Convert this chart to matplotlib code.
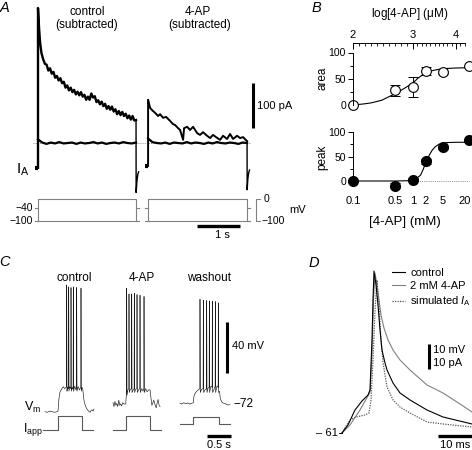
import numpy as np
import matplotlib
matplotlib.use('Agg')
import matplotlib.pyplot as plt
from matplotlib.transforms import ScaledTranslation

plt.rcParams['font.family'] = ['Liberation Sans', 'DejaVu Sans']
plt.rcParams['mathtext.fontset'] = 'custom'
plt.rcParams['mathtext.rm'] = 'Liberation Sans'
plt.rcParams['mathtext.it'] = 'Liberation Sans:italic'
plt.rcParams['axes.unicode_minus'] = True

# ---------------- data ----------------
# A: subtracted I_A (pA) vs time (s) from step onset
ctrl_t = [0, 0.01, 0.025, 0.05, 0.08, 0.12, 0.16] + list(np.linspace(0.2, 2.28, 53))
ctrl_i = [300, 282, 255, 222, 200, 186, 176,
          174, 161, 166, 154, 158, 145, 149, 139, 144, 133,
          136, 123, 128, 117, 123, 113, 118, 108, 114, 106,
          113, 103, 107, 96, 103, 96, 110, 101, 104, 91,
          95, 86, 92, 82, 87, 76, 82, 74, 81, 70,
          75, 64, 71, 62, 69, 60, 65, 55, 61, 52,
          60, 50, 51]
ctrl_flat_t = np.linspace(0, 2.28, 24)
ctrl_flat_i = [8, 1, -2, 1, -1, 2, -1, 0, 1, -2, 1, -1, 0, 2, -1, 1, -2, 0, 1, -1, 2, 0, -1, 1]
ctrl_hold = -55
ctrl_tail_t = [2.28, 2.282, 2.30, 2.32, 2.34]
ctrl_tail_i = [51, -110, -86, -70, -64]

ap_t = [0, 0.023, 0.047, 0.093, 0.163, 0.233, 0.279, 0.349, 0.419, 0.512, 0.581, 0.628,
        0.698, 0.744, 0.814, 0.837, 0.907, 0.977, 1.047, 1.140, 1.209, 1.279, 1.372,
        1.442, 1.512, 1.581, 1.674, 1.744, 1.837, 1.907, 1.977, 2.070, 2.140, 2.209, 2.302]
ap_i = [96, 87, 78, 73, 67, 60, 64, 56, 58, 49, 42, 40,
        33, 29, 7, 33, 36, 29, 36, 22, 18, 24, 16,
        11, 18, 13, 7, 16, 9, 20, 9, 16, 11, 13, 4]
ap_flat_t = np.linspace(0, 2.30, 24)
ap_flat_i = [10, 2, 0, -1, 1, -2, 1, 0, -1, 2, -1, 1, 0, -2, 1, -1, 2, 0, -1, 1, 0, -2, 1, 0]
ap_hold = -51
ap_tail_t = [2.302, 2.304, 2.32, 2.34, 2.36]
ap_tail_i = [4, -104, -80, -66, -60]
ap_offset = 2.56

# voltage protocol (mV)
step_mv, pre_mv, hold_mv = 0, -100, -40
pulse_dur = [2.28, 2.30]

# B: normalised block (%) vs [4-AP] (mM)
conc = [0.1, 0.5, 1, 2, 5, 20]
area_val = [0, 28, 35, 65, 62, 75]
area_err = [0, 10, 19, 7, 3, 0]
peak_val = [-1, -10, 3, 40, 69, 84]
peak_err = [0, 5, 3, 5, 3, 0]
area_fit_c = [0.1, 0.15, 0.2, 0.3, 0.4, 0.5, 0.7, 1.0, 1.3, 1.7, 2.2, 3, 4, 6, 10, 20]
area_fit_v = [0, 2, 4, 9, 16, 21, 31, 42, 51, 58, 63, 66, 68, 69.5, 70.5, 71]
peak_fit_c = [0.1, 0.5, 0.8, 1.0, 1.2, 1.5, 1.75, 2.0, 2.4, 2.8, 3.3, 4, 5, 6.5, 10, 20]
peak_fit_v = [0, 0, 0.5, 1.5, 5, 12, 25, 39, 53, 63, 70, 75, 77.5, 78.5, 79, 79]

# C: membrane potential (mV) and applied current vs time (s)
ctrl_vm_t = [0.0, 0.05, 0.1, 0.15, 0.2, 0.25, 0.27, 0.28, 0.29, 0.31, 0.35, 0.38, 0.41, 0.44,
             0.448, 0.452, 0.458, 0.47, 0.485, 0.490, 0.494, 0.500, 0.515, 0.535,
             0.538, 0.542, 0.548, 0.565, 0.582, 0.586, 0.590, 0.596, 0.62, 0.645,
             0.656, 0.660, 0.666, 0.69, 0.72, 0.74, 0.746, 0.750, 0.756, 0.77,
             0.785, 0.80, 0.8125, 0.83, 0.854, 0.875, 0.896, 0.92, 0.9375, 0.96,
             0.979, 1.0, 1.02]
ctrl_vm_v = [-78, -78.5, -77.5, -78, -78.5, -78, -77.5, -74, -68, -63, -60, -58.5, -60, -59,
             -58, 21, -62, -59, -60, -58, 19.5, -62, -58.5, -60,
             -58, 19, -62, -59, -60.5, -58, 19.5, -62, -58, -61,
             -58, 19, -62, -58.5, -61, -59, -58, 18.5, -62, -59,
             -60, -65, -69, -72, -74.5, -76, -77, -78, -78.5, -77,
             -76.5, -77.5, -76]
ap_vm_t = [0.0, 0.02, 0.04, 0.06, 0.08, 0.10, 0.12, 0.14, 0.16, 0.18, 0.20, 0.23, 0.265, 0.275,
           0.281, 0.285, 0.291, 0.31, 0.329, 0.333, 0.339, 0.36, 0.386, 0.390,
           0.396, 0.42, 0.440, 0.444, 0.450, 0.47, 0.496, 0.500, 0.506, 0.53,
           0.558, 0.5625, 0.568, 0.60, 0.625, 0.642, 0.646, 0.652, 0.68, 0.71,
           0.74, 0.771, 0.79, 0.81, 0.83, 0.85, 0.875, 0.90, 0.92, 0.94, 0.96, 0.98]
ap_vm_v = [-71, -74, -70, -73, -71.5, -74, -69, -73, -72, -73.5, -71, -72, -72, -66,
           -64, 18.5, -65, -61, -60, 14, -63, -60.5, -60, 14,
           -63, -61, -60, 14.5, -63, -60.5, -60, 13.5, -63, -61,
           -60, 13, -63, -60, -62, -60, 12, -63, -60, -62.5,
           -61, -61, -67, -73, -71, -69, -72.5, -75, -71, -68.5, -73, -74]
wo_vm_t = [0.0, 0.04, 0.08, 0.12, 0.16, 0.20, 0.24, 0.277, 0.29, 0.31, 0.35, 0.38, 0.40,
           0.413, 0.4167, 0.423, 0.45, 0.482, 0.486, 0.492, 0.52, 0.552, 0.556,
           0.562, 0.585, 0.607, 0.611, 0.617, 0.645, 0.670, 0.674, 0.680, 0.705,
           0.732, 0.736, 0.742, 0.77, 0.795, 0.799, 0.805, 0.823, 0.84, 0.88,
           0.92, 0.96, 1.0, 1.04]
wo_vm_v = [-71.5, -72, -71, -71.8, -71.2, -72, -71.5, -71, -66, -64, -62, -61, -60.5,
           -60, 9.8, -63, -60.5, -60, 9, -63, -61, -60, 8.8,
           -63, -59.5, -59, 8.5, -63, -58, -59, 8.2, -63, -61,
           -58, 8, -63, -58, -59, 7, -63, -62, -68, -71,
           -71.5, -72, -72.8, -72.5]
iapp_ctrl_t = [-0.04, 0.27, 0.27, 0.77, 0.77, 1.0]
iapp_ctrl = [0, 0, 100, 100, 0, 0]
iapp_ap_t = [0, 0.27, 0.27, 0.77, 0.77, 0.99]
iapp_ap = [0, 0, 100, 100, 0, 0]
iapp_wo_t = [0, 0.277, 0.277, 0.813, 0.813, 1.04]
iapp_wo = [43, 43, 95, 95, 43, 43]
c_offsets = [0, 1.417, 2.8125]
c_titles = ['control', '4-AP', 'washout']

# D: single action potentials (ms, mV)
d_ctrl_t = [0.0, 1.76, 3.82, 5.88, 7.65, 8.24, 8.82, 9.12, 9.41, 10.0, 10.59, 11.18,
            11.76, 12.65, 13.24, 15.0, 17.06, 20.0, 25.0, 29.71, 38.24]
d_ctrl_v = [-61.0, -57.8, -51.8, -48.2, -45.8, -43.8, -23.8, -7.8, 3.8, -1.8, -9.8, -19.8,
            -27.8, -33.0, -35.8, -41.0, -45.0, -47.8, -51.8, -54.6, -57.4]
d_ap_t = [0, 2.35, 5.29, 7.65, 8.24, 8.82, 9.26, 9.71, 10.29, 10.88, 11.47, 12.35,
          13.53, 15.0, 17.06, 20.0, 25.0, 29.71, 34.71, 38.24]
d_ap_v = [-61, -57.8, -51.8, -46.2, -44.6, -29.8, -7.8, 3.0, -1.8, -7.8, -13.8, -19.0,
          -23.8, -27.8, -31.8, -35.8, -41.8, -45.0, -49.4, -52.6]
d_sim_t = [0, 1.18, 2.35, 4.12, 6.76, 7.94, 8.53, 9.12, 9.71, 10.29, 10.88, 11.47,
           12.06, 12.65, 13.24, 15.0, 17.06, 20.0, 25.0, 29.71, 38.24]
d_sim_v = [-61, -58.2, -55.8, -54.6, -53.8, -53.0, -47.8, -31.8, -11.8, 0.2, -9.8, -23.8,
           -32.6, -37.8, -42.6, -47.8, -50.6, -53.0, -56.6, -57.4, -58.6]

# ---------------- figure ----------------
W, H = 472, 450
fig = plt.figure(figsize=(W / 100, H / 100), dpi=100)


def add_ax(box, xa=None, ya=None):
    # box in pixels (x0, y0, x1, y1), y downwards; xa/ya = (pixel, value, px per unit)
    x0, y0, x1, y1 = box
    ax = fig.add_axes([x0 / W, 1 - y1 / H, (x1 - x0) / W, (y1 - y0) / H])
    if xa is not None:
        px, v, k = xa
        ax.set_xlim(v + (x0 - px) / k, v + (x1 - px) / k)
    if ya is not None:
        py, v, k = ya
        ax.set_ylim(v - (y1 - py) / k, v + (py - y0) / k)
    for s in ax.spines.values():
        s.set_visible(False)
    ax.set_xticks([])
    ax.set_yticks([])
    ax.patch.set_alpha(0)
    return ax


def txt(x, y, s, **kw):
    kw.setdefault('ha', 'center')
    kw.setdefault('va', 'center')
    kw.setdefault('fontsize', 8.5)
    fig.text(x / W, 1 - y / H, s, **kw)


# panel letters
for lab, x, y in [('A', 5, 8), ('B', 316, 8), ('C', 5, 262), ('D', 314, 263)]:
    txt(x, y, lab, fontsize=10.5, style='italic')

# ---- A ----
axA = add_ax((30, 0, 280, 196), xa=(38, 0, 43), ya=(143, 0, 0.45))
axA.plot([-0.12, 4.93], [0, 0], ls=(0, (1, 1.2)), color='0.55', lw=0.7)
axA.plot([-0.06, -0.01], [ctrl_hold, ctrl_hold], color='k', lw=3, solid_capstyle='butt')
axA.plot([0] + ctrl_t, [ctrl_hold] + ctrl_i, color='k', lw=1.7)
axA.plot(ctrl_flat_t, ctrl_flat_i, color='k', lw=1.6)
axA.plot(ctrl_tail_t, ctrl_tail_i, color='k', lw=1.0)
axA.plot([ap_offset - 0.07, ap_offset - 0.01], [ap_hold, ap_hold], color='k', lw=3,
         solid_capstyle='butt')
axA.plot(ap_offset + np.array([0] + ap_t), [ap_hold] + ap_i, color='k', lw=1.4)
axA.plot(ap_offset + ap_flat_t, ap_flat_i, color='k', lw=1.6)
axA.plot(ap_offset + np.array(ap_tail_t), ap_tail_i, color='k', lw=1.0)
# 100 pA bar
axA.plot([5.0, 5.0], [33, 133], color='k', lw=2.2, solid_capstyle='butt')
axA.text(5.09, 83, '100 pA', fontsize=8, ha='left', va='center')
txt(87, 12, 'control')
txt(87, 25, '(subtracted)')
txt(198, 12, '4-AP')
txt(200, 25, '(subtracted)')
txt(23, 170, r'$\mathregular{I_A}$', fontsize=11)

# protocol
axP = add_ax((0, 188, 320, 245), xa=(38, 0, 43), ya=(199, 0, 0.22))
pc = '0.5'
for t0, dur in zip([0, ap_offset], pulse_dur):
    t1 = t0 + dur
    axP.plot([t0, t0, t1, t1], [pre_mv, step_mv, step_mv, pre_mv], color=pc, lw=0.8)
    axP.plot([t0, t1], [pre_mv, pre_mv], color=pc, lw=0.8)
    for edge, sgn in [(t0, -1), (t1, 1)]:
        axP.plot([edge, edge + sgn * 0.07], [hold_mv, hold_mv], color=pc, lw=0.8)
        axP.plot([edge, edge + sgn * 0.07], [pre_mv, pre_mv], color=pc, lw=0.8)
axP.text(-0.11, hold_mv, '\u221240', fontsize=7.5, ha='right', va='center')
axP.text(-0.11, pre_mv, '\u2212100', fontsize=7.5, ha='right', va='center')
# mV bracket
axP.plot([5.16, 5.07, 5.07, 5.16], [step_mv, step_mv, pre_mv, pre_mv], color=pc, lw=0.8)
axP.text(5.25, step_mv, '0', fontsize=7.5, ha='left', va='center')
axP.text(5.2, pre_mv, '\u2212100', fontsize=7.5, ha='left', va='center')
axP.text(5.85, -50, 'mV', fontsize=8, ha='left', va='center')
# 1 s bar
axP.plot([3.70, 4.70], [-123, -123], color='k', lw=2.4, solid_capstyle='butt')
txt(222, 235, '1 s', fontsize=8)

# ---- B ----
knots_log = [-1, 0, 2]
knots_px = [0, 60, 146]


def fwd(c):
    c = np.asarray(c, float)
    return np.interp(np.log10(np.clip(c, 1e-9, None)), knots_log, knots_px)


def inv(p):
    return 10 ** np.interp(np.asarray(p, float), knots_px, knots_log)


def b_axes(box, y0px, kpx):
    ax = add_ax(box, ya=(y0px, 0, kpx))
    ax.set_xscale('function', functions=(fwd, inv))
    ax.set_xlim(0.1, float(inv(box[2] - box[0])))
    ax.spines['left'].set_visible(True)
    ax.spines['left'].set_bounds(0, 100)
    ax.spines['left'].set_linewidth(0.7)
    ax.set_yticks([0, 50, 100])
    ax.set_yticks([25, 75], minor=True)
    ax.tick_params(axis='y', which='major', length=3.5, width=0.7, labelsize=7.5, pad=1.5)
    ax.tick_params(axis='y', which='minor', length=2, width=0.7)
    return ax


axArea = b_axes((353, 43, 472, 108), 105, 0.525)
axArea.spines['top'].set_visible(True)
axArea.spines['top'].set_bounds(0.1, 16.5)
axArea.spines['top'].set_linewidth(0.7)
axArea.xaxis.set_ticks_position('top')
axArea.set_xticks([0.1, 1, 10])
axArea.set_xticklabels(['2', '3', '4'])
axArea.set_xticks(10 ** (np.arange(-10, 13) / 10), minor=True)
axArea.tick_params(axis='x', which='major', direction='in', length=4.5, width=0.7,
                   labelsize=8, pad=2)
axArea.tick_params(axis='x', which='minor', direction='in', length=2.5, width=0.6)
axArea.plot(area_fit_c, area_fit_v, color='k', lw=0.8, clip_on=False)
axArea.errorbar(conc, area_val, yerr=area_err, fmt='none', ecolor='k', elinewidth=0.7,
                capsize=3.5, capthick=0.7, clip_on=False)
axArea.plot(conc, area_val, 'o', ms=7, mfc='white', mec='k', mew=0.8, clip_on=False)
txt(410, 14, r'log[4-AP] ($\mathregular{\mu}$M)', fontsize=8.5)
txt(323, 78, 'area', rotation=90, fontsize=8.5)

axPeak = b_axes((353, 125, 472, 192), 181, 0.49)
axPeak.plot([1, 20], [0, 0], ls=(0, (1, 1.2)), color='0.55', lw=0.7)
axPeak.plot(peak_fit_c, peak_fit_v, color='k', lw=0.8, clip_on=False)
axPeak.errorbar(conc, peak_val, yerr=peak_err, fmt='none', ecolor='k', elinewidth=0.7,
                capsize=3.5, capthick=0.7, clip_on=False)
axPeak.plot(conc, peak_val, 'o', ms=7, mfc='k', mec='k', clip_on=False)
axPeak.set_xticks(conc)
axPeak.set_xticklabels(['0.1', '0.5', '1', '2', '5', '20'])
axPeak.tick_params(axis='x', which='major', length=0, labelsize=8, pad=3)
axPeak.tick_params(axis='x', which='minor', length=0)
last = axPeak.get_xticklabels()[-1]
last.set_transform(last.get_transform() + ScaledTranslation(-0.045, 0, fig.dpi_scale_trans))
txt(322, 157, 'peak', rotation=90, fontsize=8.5)
txt(405, 222, '[4-AP] (mM)', fontsize=9.5)

# ---- C ----
axC = add_ax((20, 272, 262, 450), xa=(45, 0, 48), ya=(404, -72, 1.28))
axI = add_ax((20, 400, 262, 445), xa=(45, 0, 48), ya=(430, 0, 0.14))
vm_traces = [(ctrl_vm_t, ctrl_vm_v), (ap_vm_t, ap_vm_v), (wo_vm_t, wo_vm_v)]
i_traces = [(iapp_ctrl_t, iapp_ctrl), (iapp_ap_t, iapp_ap), (iapp_wo_t, iapp_wo)]
for off, (tv, vv), (ti, ii), title in zip(c_offsets, vm_traces, i_traces, c_titles):
    axC.plot(off + np.array(tv), vv, color='0.1', lw=0.45)
    axI.plot(off + np.array(ti), ii, color='0.35', lw=0.8)
    axC.text(off + 0.6, 26.5, title, fontsize=8.5, ha='center', va='center')
axC.plot([3.79, 3.79], [-48, -8], color='k', lw=2.2, solid_capstyle='butt')
axC.text(3.9, -27, '40 mV', fontsize=8, ha='left', va='center')
axC.text(3.92, -72, '\u221272', fontsize=8.5, ha='left', va='center')
axC.plot([3.375, 3.875], [-97, -97], color='k', lw=2.4, solid_capstyle='butt')
axC.text(3.625, -104, '0.5 s', fontsize=8, ha='center', va='center')
txt(33, 407, r'$\mathregular{V_m}$', fontsize=9)
txt(33, 429, r'$\mathregular{I_{app}}$', fontsize=9)

# ---- D ----
axD = add_ax((322, 262, 472, 450), xa=(342, 0, 3.4), ya=(433, -61, 2.5))
h2, = axD.plot(d_ap_t, d_ap_v, color='0.5', lw=0.8, label='2 mM 4-AP')
h3, = axD.plot(d_sim_t, d_sim_v, color='0.35', lw=0.9, ls=(0, (1, 1)),
               label=r'simulated $I_\mathregular{A}$')
h1, = axD.plot(d_ctrl_t, d_ctrl_v, color='k', lw=0.8, label='control')
axD.plot([-0.9, 0], [-61, -61], color='k', lw=0.7)
axD.text(-1.1, -61, '\u2013 61', fontsize=8, ha='right', va='center')
axD.plot([25.7, 25.7], [-35.5, -25.5], color='k', lw=2.2, solid_capstyle='butt')
axD.text(26.7, -27.7, '10 mV', fontsize=8, ha='left', va='center')
axD.text(26.7, -32.9, '10 pA', fontsize=8, ha='left', va='center')
axD.plot([28.2, 38.2], [-62.1, -62.1], color='k', lw=2.4, solid_capstyle='butt',
         clip_on=False)
axD.text(33.2, -66, '10 ms', fontsize=8, ha='center', va='center')
axD.legend(handles=[h1, h2, h3], loc='upper left', bbox_to_anchor=(392 / W, 1 - 268 / H),
           bbox_transform=fig.transFigure, frameon=False, fontsize=8, handlelength=1.2,
           handletextpad=0.45, labelspacing=0.3, borderpad=0, borderaxespad=0)

fig.savefig('out.png', dpi=100, facecolor='white')
